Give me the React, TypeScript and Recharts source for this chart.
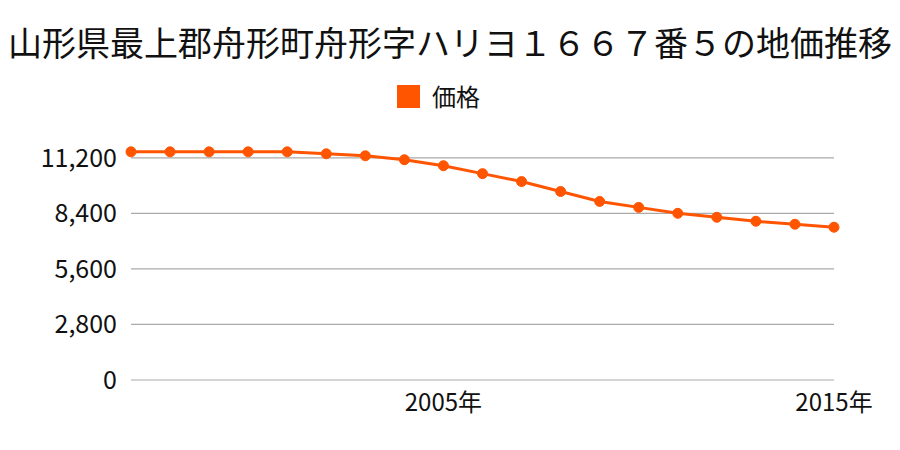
import React from 'react';
import { LineChart, Line, XAxis, YAxis, CartesianGrid } from 'recharts';

const years = [1997, 1998, 1999, 2000, 2001, 2002, 2003, 2004, 2005, 2006, 2007, 2008, 2009, 2010, 2011, 2012, 2013, 2014, 2015];
const prices = [11500, 11500, 11500, 11500, 11500, 11400, 11300, 11100, 10800, 10400, 10000, 9500, 9000, 8700, 8400, 8200, 8000, 7850, 7700];
const yTicks = [0, 2800, 5600, 8400, 11200];
const labeledYears = [2005, 2015];
const title = '山形県最上郡舟形町舟形字ハリヨ１６６７番５の地価推移';
const seriesName = '価格';

const data = years.map((y, i) => ({ year: y, price: prices[i] }));

const FONT = '"Noto Sans CJK JP", "Noto Sans", sans-serif';
const COLOR = '#ff5500';

export default function App() {
  return (
    <div style={{ position: 'absolute', left: 0, top: 0, width: 900, height: 450, background: '#fff', fontFamily: FONT }}>
      <div style={{ position: 'absolute', left: 0, top: 18, width: 900, textAlign: 'center', fontSize: 34, lineHeight: '48px', color: '#111', whiteSpace: 'nowrap' }}>
        {title}
      </div>
      <div style={{ position: 'absolute', left: 397, top: 84, display: 'flex', alignItems: 'center', height: 24 }}>
        <div style={{ width: 23, height: 23, background: COLOR, marginRight: 12 }} />
        <span style={{ fontSize: 24, color: '#111', lineHeight: '24px' }}>{seriesName}</span>
      </div>
      <div style={{ position: 'absolute', left: 0, top: 0 }}>
        <LineChart width={900} height={450} data={data} margin={{ top: 130, right: 66, left: 0, bottom: 30 }}>
          <CartesianGrid vertical={false} stroke="#aaaaaa" strokeWidth={1.2} horizontalValues={yTicks} />
          <XAxis
            dataKey="year"
            interval={0}
            axisLine={false}
            tickLine={false}
            height={40}
            tickMargin={8}
            tick={{ fontSize: 24, fill: '#111', fontFamily: FONT }}
            tickFormatter={(v: number) => (labeledYears.includes(v) ? `${v}年` : '')}
          />
          <YAxis
            width={131}
            domain={[0, 12600]}
            ticks={yTicks}
            axisLine={false}
            tickLine={false}
            tickMargin={8}
            tick={{ fontSize: 25, fill: '#111', fontFamily: FONT }}
            tickFormatter={(v: number) => v.toLocaleString('en-US')}
          />
          <Line
            type="linear"
            dataKey="price"
            name={seriesName}
            stroke={COLOR}
            strokeWidth={3}
            dot={{ r: 5, fill: COLOR, stroke: COLOR, strokeWidth: 1 }}
            isAnimationActive={false}
          />
        </LineChart>
      </div>
    </div>
  );
}
